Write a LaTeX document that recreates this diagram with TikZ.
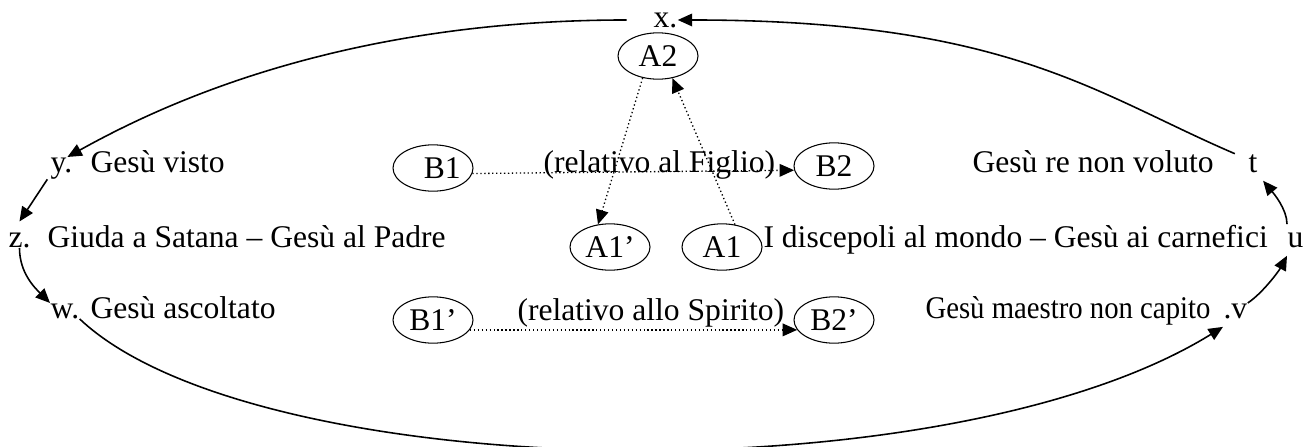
\documentclass[tikz,border=0pt]{standalone}
\usepackage{fontspec}
\setmainfont{Liberation Serif}
\usetikzlibrary{shapes.geometric,arrows.meta}
\begin{document}
\begin{tikzpicture}[x=0.38pt, y=-0.38pt]
    \tikzset{txt/.style={anchor=base west, inner sep=0pt, font=\fontsize{12}{14}\selectfont}}
    \tikzset{oval/.style={draw, ellipse, inner sep=0pt, minimum width=30.4pt,
        minimum height=17.6pt, font=\fontsize{12}{14}\selectfont}}
    \tikzset{bigarrow/.style={line width=0.6pt, -{Triangle[length=5.5pt,width=4.8pt]}}}
    \tikzset{dotarrow/.style={densely dotted, line width=0.5pt,
        -{Triangle[length=5.5pt,width=4.8pt]}}}

    \useasboundingbox (0,0) rectangle (1312,446);
    \clip (0,0) rectangle (1312,446);

    \node (lx) [txt] at (653,27) {x.};
    \node (A2) [oval] at (658,56) {A2};

    \node (ly) [txt] at (50,172) {y.};
    \node (ty) [txt] at (90,172) {Gesù visto};
    \node (B1) [oval] at (433,168) {\hspace{7pt}B1};
    \node (rel1) [txt] at (543,172) {(relativo al Figlio)};
    \node (B2) [oval] at (834,166) {B2};
    \node (tt) [txt] at (972,172) {Gesù re non voluto};
    \node (lt) [txt] at (1248,172) {t};

    \node (lz) [txt] at (8,247) {z.};
    \node (tz) [txt] at (47,247) {Giuda a Satana – Gesù al Padre};
    \node (A1p) [oval] at (610,247) {A1’};
    \node (A1) [oval] at (722,247) {A1};
    \node (tu) [txt] at (763,247) {I discepoli al mondo – Gesù ai carnefici};
    \node (lu) [txt] at (1287,247) {u};

    \node (lw) [txt] at (50,318) {w.};
    \node (tw) [txt] at (90,318) {Gesù ascoltato};
    \node (B1p) [oval] at (433,320) {B1’};
    \node (rel2) [txt] at (517,320) {(relativo allo Spirito)};
    \node (B2p) [oval] at (834,320) {B2’};
    \node (tv) [txt] at (925,318) {\scalebox{0.91}[1]{Gesù maestro non capito}};
    \node (lv) [txt] at (1223,318) {.v};

    \draw [dotarrow] (B1.-8) -- (B2.186);
    \draw [dotarrow] (B1p.-15) -- (B2p.195);
    \draw [dotarrow] (A2.235) -- (A1p.118);
    \draw [dotarrow] (A1.60) -- (A2.-57);

    \draw [bigarrow] ([xshift=-10pt]lx.west) .. controls +(-290,0) and +(90,-50) .. ([xshift=-2pt]ly.north east);
    \draw [bigarrow] ([xshift=-1pt]ly.south west) .. controls +(-8,12) and +(8,-12) .. ([yshift=4pt]lz.north);
    \draw [bigarrow] (lz.south) .. controls +(0,25) and +(-15,-15) .. (lw.north west);
    \draw [bigarrow] (lw.south east) .. controls +(175,165) and +(-278,172) .. ([yshift=-3pt]lv.south west);
    \draw [bigarrow] (lv.north east) .. controls +(15,-10) and +(-8,15) .. ([yshift=-3pt]lu.south west);
    \draw [bigarrow] ([yshift=3pt]lu.north west) .. controls +(0,-15) and +(10,12) .. ([xshift=2pt,yshift=-3pt]lt.south east);
    \draw [bigarrow] ([xshift=-5pt]lt.north west) .. controls +(-140,-60) and +(330,0) .. (lx.east);
\end{tikzpicture}
\end{document}
